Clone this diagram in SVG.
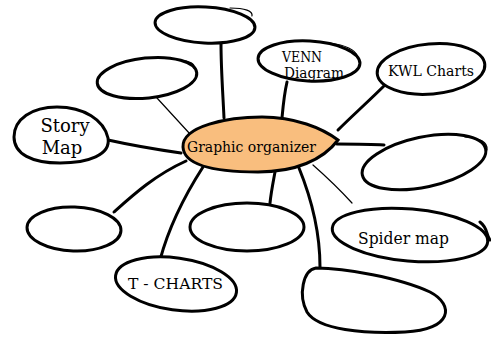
<svg xmlns="http://www.w3.org/2000/svg" width="491" height="337" viewBox="0 0 491 337">
<style>
.n{fill:#fff;stroke:#000;stroke-width:3;stroke-linejoin:round;stroke-linecap:round}
.c{fill:none;stroke:#000;stroke-width:3;stroke-linecap:round}
.t{fill:none;stroke:#000;stroke-width:1.2;stroke-linecap:round}
text{font-family:"DejaVu Serif","Liberation Serif",serif;fill:#000}
</style>
<rect width="491" height="337" fill="#fff"/>
<g id="connectors">
<path class="c" d="M221,43 C221,70 223,95 224,118"/>
<path class="t" d="M157,98 L190,134"/>
<path class="c" d="M108,140 C135,146 160,150 181,153"/>
<path class="c" d="M287,82 C284,95 283,107 282,118"/>
<path class="c" d="M388,82 C370,100 352,116 338,130"/>
<path class="c" d="M337,144 C355,144 370,144 384,145"/>
<path class="t" d="M313,165 C330,180 342,192 352,203"/>
<path class="c" d="M299,168 C312,200 320,235 320,267"/>
<path class="c" d="M275,172 C273,183 271,193 270,203"/>
<path class="c" d="M186,161 C155,175 133,195 114,212"/>
<path class="c" d="M203,167 C185,195 168,230 160,260"/>
</g>
<g id="center">
<path d="M183,147 C182,126 228,117 262,117 C295,117 322,128 338,140 C323,160 295,172 258,172 C215,172 184,166 183,147 Z" fill="#F9BE7E" stroke="#000" stroke-width="3"/>
<text x="187" y="152" font-size="15" textLength="129" lengthAdjust="spacingAndGlyphs">Graphic organizer</text>
</g>
<g id="top">
<ellipse class="n" cx="205" cy="25" rx="50" ry="18" transform="rotate(3 205 25)"/>
<path class="t" d="M230,8 C245,8 253,11 252,16"/>
</g>
<g id="upperleft">
<ellipse class="n" cx="147" cy="78" rx="50" ry="20" transform="rotate(-6 147 78)"/>
<path class="t" d="M180,60 C190,61 195,64 194,68"/>
</g>
<g id="story">
<path class="n" d="M14,137 C14,119 32,107 57,107 C84,107 104,120 108,138 C111,155 88,163 60,163 C32,163 14,154 14,137 Z"/>
<text x="65" y="132" font-size="18" text-anchor="middle">Story</text>
<text x="62" y="154" font-size="18" text-anchor="middle">Map</text>
</g>
<g id="venn">
<ellipse class="n" cx="309" cy="61" rx="51" ry="20" transform="rotate(3 309 61)"/>
<path class="t" d="M330,43 C345,45 356,50 357,56"/>
<text x="282" y="62" font-size="14" textLength="40" lengthAdjust="spacingAndGlyphs">VENN</text>
<text x="284" y="78" font-size="14" textLength="60" lengthAdjust="spacingAndGlyphs">Diagram</text>
</g>
<g id="kwl">
<ellipse class="n" cx="431" cy="69" rx="54" ry="25" transform="rotate(-5 431 69)"/>
<text x="388" y="76" font-size="15" textLength="86" lengthAdjust="spacingAndGlyphs">KWL Charts</text>
</g>
<g id="right">
<ellipse class="n" cx="424" cy="162" rx="63" ry="25" transform="rotate(-12 424 162)"/>
<path class="t" d="M465,137 C480,138 488,142 487,150"/>
</g>
<g id="spider">
<ellipse class="n" cx="410" cy="235" rx="78" ry="26" transform="rotate(5 410 235)"/>
<path class="c" d="M480,222 C488,228 486,235 490,240"/>
<text x="358" y="244" font-size="16" textLength="91" lengthAdjust="spacingAndGlyphs">Spider map</text>
</g>
<g id="bottomright">
<path class="n" d="M316,268 C345,268 400,278 430,292 C455,305 452,330 405,332 C365,334 318,330 307,312 C298,295 303,270 316,268 Z"/>
</g>
<g id="bottomcenter">
<ellipse class="n" cx="247" cy="227" rx="57" ry="24"/>
</g>
<g id="leftlower">
<ellipse class="n" cx="74" cy="229" rx="47" ry="22" transform="rotate(2 74 229)"/>
</g>
<g id="tcharts">
<ellipse class="n" cx="176" cy="284" rx="61" ry="26" transform="rotate(8 176 284)"/>
<text x="128" y="289" font-size="15" textLength="95" lengthAdjust="spacingAndGlyphs">T - CHARTS</text>
</g>
</svg>
